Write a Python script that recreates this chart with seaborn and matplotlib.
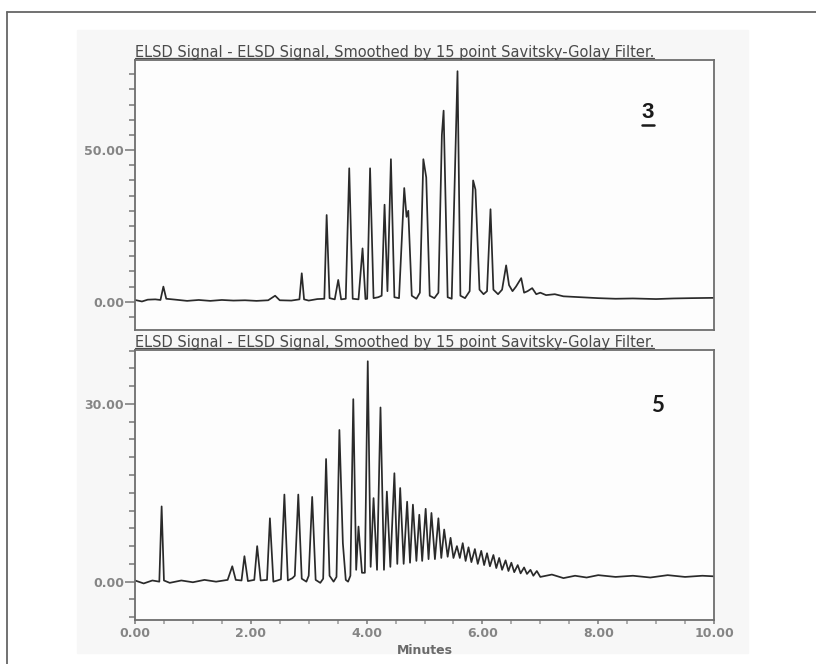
import pandas as pd
import matplotlib
matplotlib.use('Agg')
import matplotlib.pyplot as plt
from matplotlib.ticker import MultipleLocator, FormatStrFormatter
from matplotlib.lines import Line2D
from matplotlib.patches import Rectangle
import seaborn as sns

sns.set_style('white')
plt.rcParams['font.family'] = ['DejaVu Sans']

title = 'ELSD Signal - ELSD Signal, Smoothed by 15 point Savitsky-Golay Filter.'

# sample 3 (top): peak apexes
top_peak_t = [0.49, 2.42, 2.88, 3.31, 3.51, 3.70, 3.93, 4.06, 4.31, 4.42, 4.65, 4.72,
              4.98, 5.03, 5.30, 5.33, 5.57, 5.84, 5.88, 6.14, 6.41, 6.67, 6.86]
top_peak_v = [5.0, 2.0, 9.4, 28.6, 7.2, 44.0, 17.6, 44.0, 32.0, 47.0, 37.5, 30.0,
              47.0, 41.0, 55.0, 63.0, 76.0, 40.0, 37.0, 30.5, 12.0, 7.8, 4.5]
# valleys and baseline between the peaks
top_base_t = [0.0, 0.12, 0.22, 0.35, 0.44, 0.54, 0.7, 0.9, 1.1, 1.3, 1.5, 1.7, 1.9,
              2.1, 2.3, 2.5, 2.7, 2.84, 2.92, 3.0, 3.15, 3.27, 3.36, 3.45, 3.56,
              3.64, 3.76, 3.86, 3.98, 4.01, 4.12, 4.2, 4.26, 4.36, 4.48, 4.56,
              4.69, 4.78, 4.86, 4.92, 5.09, 5.17, 5.24, 5.40, 5.47, 5.62, 5.70,
              5.78, 5.95, 6.02, 6.08, 6.19, 6.27, 6.34, 6.46, 6.52, 6.58, 6.72,
              6.78, 6.93, 7.0, 7.1, 7.25, 7.4, 7.6, 7.8, 8.0, 8.3, 8.6, 9.0, 9.3,
              9.6, 10.0]
top_base_v = [0.6, 0.1, 0.7, 0.8, 0.6, 1.0, 0.7, 0.3, 0.6, 0.3, 0.6, 0.4, 0.5,
              0.3, 0.5, 0.5, 0.4, 0.8, 0.8, 0.4, 0.9, 1.0, 1.2, 0.8, 0.8,
              1.0, 1.0, 0.8, 0.9, 1.0, 1.2, 1.5, 2.0, 3.5, 1.5, 1.2,
              28.0, 2.0, 1.0, 3.0, 2.0, 1.2, 3.0, 1.5, 1.0, 2.0, 1.2,
              3.5, 4.0, 2.5, 3.5, 4.0, 2.5, 4.0, 5.5, 3.5, 5.0, 3.0,
              3.5, 2.5, 3.0, 2.2, 2.5, 1.8, 1.6, 1.4, 1.2, 1.0, 1.1, 0.9, 1.1,
              1.2, 1.3]

# sample 5 (bottom): peak apexes
bot_peak_t = [0.46, 1.68, 1.89, 2.11, 2.33, 2.58, 2.82, 3.06, 3.30, 3.53, 3.59, 3.77,
              3.86, 4.02, 4.12, 4.24, 4.35, 4.48, 4.58, 4.70, 4.80, 4.91, 5.02,
              5.12, 5.24, 5.34, 5.45, 5.56, 5.66, 5.76, 5.87, 5.98, 6.08, 6.19,
              6.29, 6.40, 6.50, 6.61, 6.72, 6.83, 6.94]
bot_peak_v = [12.7, 2.6, 4.3, 6.0, 10.7, 14.7, 14.7, 14.3, 20.7, 25.6, 6.5, 30.8,
              9.3, 37.2, 14.1, 29.4, 15.2, 18.3, 15.8, 13.5, 13.0, 11.3, 12.3,
              11.6, 10.7, 8.8, 7.4, 6.0, 6.5, 5.8, 5.5, 5.2, 4.8, 4.5,
              4.0, 3.6, 3.2, 2.8, 2.4, 2.0, 1.8]
bot_base_t = [0.0, 0.15, 0.3, 0.42, 0.50, 0.6, 0.8, 1.0, 1.2, 1.4, 1.6, 1.74, 1.84,
              1.95, 2.06, 2.17, 2.28, 2.39, 2.46, 2.52, 2.64, 2.72, 2.76, 2.88,
              2.96, 3.00, 3.12, 3.20, 3.25, 3.36, 3.43, 3.48, 3.64, 3.68, 3.72,
              3.82, 3.92, 3.97, 4.07, 4.18, 4.30, 4.41, 4.53, 4.64, 4.75, 4.86,
              4.96, 5.07, 5.18, 5.29, 5.40, 5.50, 5.61, 5.71, 5.81, 5.92, 6.03,
              6.13, 6.24, 6.34, 6.45, 6.55, 6.66, 6.77, 6.88, 7.0, 7.2, 7.4, 7.6,
              7.8, 8.0, 8.3, 8.6, 8.9, 9.2, 9.5, 9.8, 10.0]
bot_base_v = [0.2, -0.3, 0.2, 0.0, 0.2, -0.2, 0.2, -0.1, 0.3, 0.0, 0.3, 0.3, 0.2,
              0.1, 0.3, 0.2, 0.3, 0.0, 0.2, 0.4, 0.2, 0.6, 1.0, 0.5,
              0.0, 1.0, 0.3, -0.2, 0.5, 1.0, 0.0, 0.8, 0.3, 0.0, 1.0,
              2.0, 1.5, 1.5, 2.5, 2.0, 2.0, 2.5, 3.0, 3.0, 3.2, 3.5,
              3.5, 3.8, 3.8, 4.0, 4.2, 4.0, 4.0, 3.5, 3.3, 3.0, 2.8,
              2.6, 2.3, 2.0, 1.8, 1.6, 1.4, 1.3, 1.0, 0.8, 1.2, 0.6, 1.0,
              0.7, 1.1, 0.8, 1.0, 0.7, 1.1, 0.8, 1.0, 0.9]


def trace(pt, pv, bt, bv):
    df = pd.DataFrame({'Minutes': pt + bt, 'Signal': pv + bv})
    return df.sort_values('Minutes').reset_index(drop=True)


fig = plt.figure(figsize=(8.16, 6.64), dpi=100, facecolor='white')
W, H = 816, 664

# faint panel behind the plots and the cut-off outer frame
fig.patches.append(Rectangle((77 / W, 1 - 653 / H), (748 - 77) / W, (653 - 30) / H,
                             transform=fig.transFigure, color='#f7f7f7', zorder=-5))
fig.lines.append(Line2D([7 / W, 7 / W], [0, 1 - 12 / H], transform=fig.transFigure,
                        color='#666666', lw=1.3))
fig.lines.append(Line2D([7 / W, 1], [1 - 12 / H, 1 - 12 / H], transform=fig.transFigure,
                        color='#666666', lw=1.3))

ax1 = fig.add_axes([135 / W, 1 - 330 / H, 579 / W, 270 / H])
ax2 = fig.add_axes([135 / W, 1 - 620 / H, 579 / W, 270 / H])

panels = [
    (ax1, trace(top_peak_t, top_peak_v, top_base_t, top_base_v), (-9.3, 79.7), 50, 5),
    (ax2, trace(bot_peak_t, bot_peak_v, bot_base_t, bot_base_v), (-6.47, 39.1), 30, 3),
]

for ax, df, ylim, major, minor in panels:
    ax.set_facecolor('#fdfdfd')
    sns.lineplot(data=df, x='Minutes', y='Signal', ax=ax, estimator=None, sort=True,
                 color='#2a2a2a', lw=1.25)
    ax.set_xlim(0, 10)
    ax.set_ylim(*ylim)
    ax.yaxis.set_major_locator(MultipleLocator(major))
    ax.yaxis.set_minor_locator(MultipleLocator(minor))
    ax.yaxis.set_major_formatter(FormatStrFormatter('%.2f'))
    ax.set_ylabel('')
    for s in ax.spines.values():
        s.set_color('#6e6e6e')
        s.set_linewidth(1.3)
    ax.tick_params(axis='y', which='major', direction='out', length=7, width=1.1,
                   color='#777777', labelsize=9, labelcolor='#858585', pad=1, left=True)
    ax.tick_params(axis='y', which='minor', direction='out', length=4, width=1.1,
                   color='#777777', left=True)
    for lab in ax.get_yticklabels():
        lab.set_fontweight('bold')
    ax.text(0.0, 1 + 3.5 / 270, title, transform=ax.transAxes, ha='left',
            va='baseline', fontsize=10.5, color='#4a4a4a')

ax1.set_xticks([])
ax1.set_xlabel('')

ax2.xaxis.set_major_locator(MultipleLocator(2))
ax2.xaxis.set_minor_locator(MultipleLocator(0.5))
ax2.xaxis.set_major_formatter(FormatStrFormatter('%.2f'))
ax2.tick_params(axis='x', which='major', direction='out', length=3, width=1.1,
                color='#777777', labelsize=9, labelcolor='#858585', pad=2, bottom=True)
ax2.tick_params(axis='x', which='minor', direction='out', length=3, width=1.1,
                color='#999999', bottom=True)
for lab in ax2.get_xticklabels():
    lab.set_fontweight('bold')
ax2.set_xlabel('Minutes', fontsize=9, fontweight='bold', color='#6a6a6a', labelpad=3)

# sample numbers
t3 = ax1.text(0.886, 0.807, '3', transform=ax1.transAxes, ha='center', va='center',
              fontsize=16, fontweight='bold', family='Liberation Sans', color='#1a1a1a')
ax2.text(0.902, 0.796, '5', transform=ax2.transAxes, ha='center', va='center',
         fontsize=16, fontweight='bold', family='Lato', color='#1a1a1a')

# underline the titles and the "3"
fig.canvas.draw()
r = fig.canvas.get_renderer()
for ax in (ax1, ax2):
    txt = [t for t in ax.texts if t.get_text() == title][0]
    bb = txt.get_window_extent(r).transformed(ax.transAxes.inverted())
    ax.plot([bb.x0, bb.x1], [1 + 2 / 270] * 2, transform=ax.transAxes,
            clip_on=False, color='#4a4a4a', lw=0.9)
bb = t3.get_window_extent(r).transformed(ax1.transAxes.inverted())
ax1.plot([bb.x0, bb.x1], [bb.y0 - 2 / 270] * 2, transform=ax1.transAxes,
         clip_on=False, color='#1a1a1a', lw=1.8)

fig.savefig('out.png', dpi=100, facecolor='white')
